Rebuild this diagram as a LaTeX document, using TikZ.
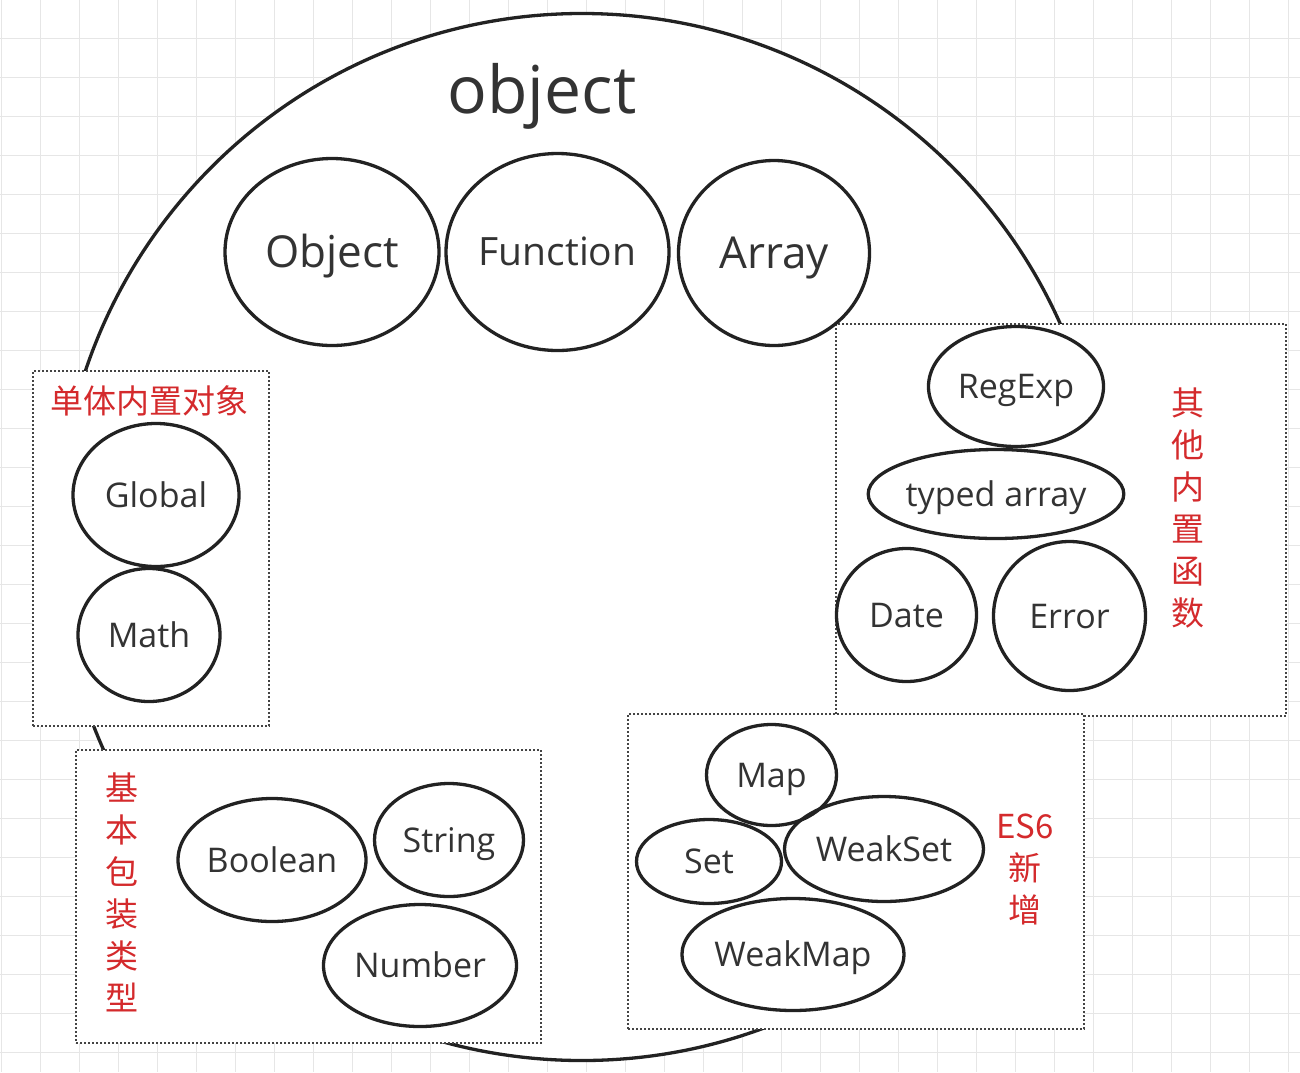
\documentclass[tikz,border=0pt]{standalone}
\usepackage{fontspec}
\setmainfont{Open Sans}
\newfontfamily\cjk{Noto Sans CJK SC}
\usetikzlibrary{shapes.geometric}
\definecolor{gridc}{HTML}{E6E6E6}
\definecolor{ink}{HTML}{222222}
\definecolor{txt}{HTML}{333333}
\definecolor{redl}{HTML}{D42A2C}
\definecolor{dotc}{HTML}{444444}
\begin{document}
\begin{tikzpicture}[x=1pt,y=-1pt,
  oval/.style={ellipse, draw=ink, line width=3.3pt, inner sep=0pt, text=txt, text height=24.3pt, text depth=0pt, font=\fontsize{34}{40}\selectfont},
  bigoval/.style={oval, text height=31.4pt, font=\fontsize{44}{50}\selectfont},
  grp/.style={rectangle, draw=dotc, fill=white, line width=2pt, dash pattern=on 2pt off 2pt, inner sep=0pt, anchor=north west},
  redlab/.style={text=redl, font=\cjk\fontsize{33}{42}\selectfont, align=center, inner sep=0pt}]
\useasboundingbox (0,0) rectangle (1300,1072);
\fill[white] (0,0) rectangle (1300,1072);
\foreach \i in {0,...,33} \draw[gridc, line width=1pt] ({1.7+39*\i},0) -- ({1.7+39*\i},1072);
\foreach \j in {0,...,27} \draw[gridc, line width=1pt] (0,{-0.7+39*\j}) -- (1300,{-0.7+39*\j});
% big circle
\node[circle, draw=ink, fill=white, line width=3.3pt, minimum size=1047pt, inner sep=0pt] (outer) at (582,537) {};
\node[font=\fontsize{66}{70}\selectfont, text=txt, anchor=base, inner sep=0pt] (title) at (542,113) {object};
% groups
\node[grp, minimum width=236pt, minimum height=355pt] (gsingle) at (32,370) {};
\node[grp, minimum width=465pt, minimum height=293pt] (gwrap) at (75,749) {};
\node[grp, minimum width=450pt, minimum height=392pt] (gother) at (835,323) {};
\node[grp, minimum width=456pt, minimum height=315pt] (ges6) at (627,713) {};
% top ellipses
\node[bigoval, minimum width=214pt, minimum height=187pt] (Object) at (332,252) {Object};
\node[oval, minimum width=219pt, minimum height=197pt, text height=27.8pt, font=\fontsize{39}{46}\selectfont] (Function) at (557.5,252) {Function};
\node[bigoval, minimum width=191pt, minimum height=185pt] (Array) at (774,253) {Array};
% singletons
\node[oval, minimum width=166pt, minimum height=143pt] (Global) at (156,495) {Global};
\node[oval, minimum width=142pt, minimum height=133pt] (Math) at (149,635) {Math};
% wrappers
\node[oval, minimum width=188pt, minimum height=123pt] (Boolean) at (272,860) {Boolean};
\node[oval, minimum width=149pt, minimum height=113pt] (String) at (449,840) {String};
\node[oval, minimum width=193pt, minimum height=122pt] (Number) at (420,965.5) {Number};
% ES6
\node[oval, minimum width=130pt, minimum height=101pt] (Map) at (771.5,775) {Map};
\node[oval, minimum width=145pt, minimum height=84pt] (Set) at (709,861.5) {Set};
\node[oval, minimum width=199pt, minimum height=105pt] (WeakSet) at (884,849) {WeakSet};
\node[oval, minimum width=217pt, minimum height=112pt] (WeakMap) at (793,954.5) {WeakMap};
% other builtins
\node[oval, minimum width=175pt, minimum height=120pt] (RegExp) at (1016,386.5) {RegExp};
\node[oval, minimum width=255pt, minimum height=89pt] (typed) at (996,494) {typed array};
\node[oval, minimum width=140pt, minimum height=133pt] (Date) at (906.5,615) {Date};
\node[oval, minimum width=152pt, minimum height=149pt] (Error) at (1069.5,616) {Error};
% red labels
\node[redlab] (l1) at (149,401) {单体内置对象};
\node[redlab] (l2) at (122,892) {基\\本\\包\\装\\类\\型};
\node[redlab] (l3) at (1025,869) {ES6\\新\\增};
\node[redlab] (l4) at (1188,508) {其\\他\\内\\置\\函\\数};
\end{tikzpicture}
\end{document}
